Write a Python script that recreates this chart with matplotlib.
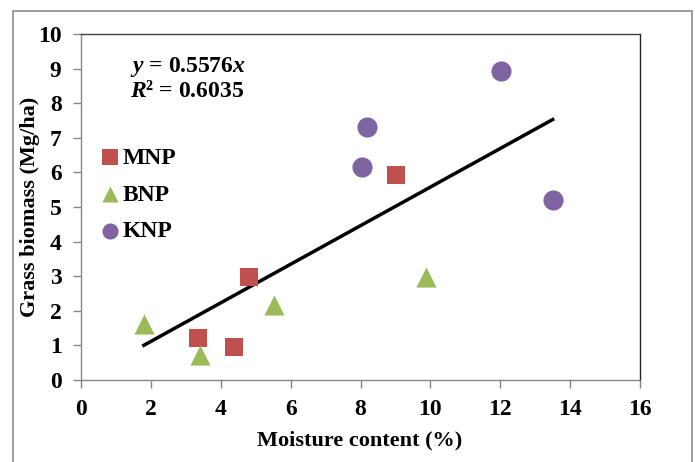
import numpy as np
import matplotlib.pyplot as plt
from matplotlib.patches import Rectangle

plt.rcParams['font.family'] = ['Liberation Serif', 'DejaVu Serif']
plt.rcParams['font.weight'] = 'bold'
plt.rcParams['mathtext.fontset'] = 'custom'
plt.rcParams['mathtext.rm'] = 'Liberation Serif:bold'
plt.rcParams['mathtext.it'] = 'Liberation Serif:bold:italic'

# data
mnp_x = [3.35, 4.39, 4.82, 9.02]
mnp_y = [1.21, 0.94, 2.99, 5.93]
bnp_x = [1.80, 3.41, 5.53, 9.87]
bnp_y = [1.62, 0.72, 2.18, 2.98]
knp_x = [12.03, 8.18, 8.04, 13.50]
knp_y = [8.94, 7.30, 6.17, 5.20]
slope = 0.5576
r2 = 0.6035

fig = plt.figure(figsize=(6.95, 4.62), dpi=100)
ax = fig.add_axes([81 / 695, 1 - 380 / 462, 559 / 695, 346 / 462])

# outer chart-area border
fig.patches.append(Rectangle((13 / 695, -0.1), 679 / 695, 1.1 - 11 / 462,
                             transform=fig.transFigure, fill=False,
                             edgecolor='#8c8c8c', linewidth=1.2))

ax.scatter(mnp_x, mnp_y, marker='s', s=185, color='#C0504D', label='MNP',
           zorder=3, linewidths=0)
ax.scatter(bnp_x, bnp_y, marker='^', s=210, color='#9BBB59', label='BNP',
           zorder=3, linewidths=0)
ax.scatter(knp_x, knp_y, marker='o', s=210, color='#8064A2', label='KNP',
           zorder=3, linewidths=0)

all_x = np.array(mnp_x + bnp_x + knp_x)
fx = np.array([all_x.min(), all_x.max()])
ax.plot(fx, slope * fx, color='black', linewidth=2.5, zorder=2)

ax.text(0.088, 0.905, r'$y$ = 0.5576$x$', transform=ax.transAxes,
        fontsize=17, fontweight='bold', ha='left', va='center')
ax.text(0.088, 0.835, r'$R$² = ' + f'{r2:.4f}', transform=ax.transAxes,
        fontsize=17, fontweight='bold', ha='left', va='center')

ax.legend(loc='upper left', bbox_to_anchor=(0.03, 0.673), frameon=False,
          prop={'size': 17, 'weight': 'bold'}, handletextpad=0.05,
          handlelength=1.0, labelspacing=0.65, markerscale=0.8,
          borderpad=0, borderaxespad=0)

ax.set_xlim(0, 16)
ax.set_ylim(0, 10)
ax.set_xticks(range(0, 17, 2))
ax.set_yticks(range(0, 11))
ax.tick_params(direction='out', length=6, width=1, color='#868686',
               labelsize=17, pad=8)
for lab in ax.get_xticklabels() + ax.get_yticklabels():
    lab.set_fontweight('bold')

ax.spines['left'].set_color('#868686')
ax.spines['bottom'].set_color('#868686')
ax.spines['top'].set_color('#404040')
ax.spines['right'].set_color('#202020')
for sp in ax.spines.values():
    sp.set_linewidth(1)

ax.set_xlabel('Moisture content (%)', fontsize=16, fontweight='bold')
ax.set_ylabel('Grass biomass (Mg/ha)', fontsize=16, fontweight='bold')
ax.xaxis.set_label_coords((360 - 81) / 559, -(440 - 380) / 346)
ax.yaxis.set_label_coords(-(81 - 30) / 559, 0.5)
ax.xaxis.label.set_va('center')
ax.yaxis.label.set_va('center')

fig.savefig('out.png', dpi=100)
